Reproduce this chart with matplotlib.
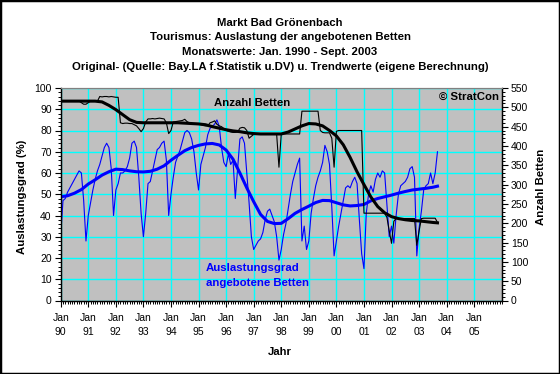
import matplotlib
matplotlib.use("Agg")
import matplotlib.pyplot as plt
from matplotlib.ticker import MultipleLocator, FixedLocator
from matplotlib.patches import Rectangle

plt.rcParams['font.family'] = ['Liberation Sans', 'DejaVu Sans']

# ---------------- data ----------------
year_labels = ["90", "91", "92", "93", "94", "95", "96", "97",
               "98", "99", "00", "01", "02", "03", "04", "05"]

# Auslastungsgrad (%) monthly, Jan 1990 - Sep 2003
occupancy = [
    31, 47, 48, 51, 53, 55, 57, 59, 61, 60, 47, 28,   # 1990
    40, 46, 52, 57, 61, 64, 68, 72, 74, 72, 62, 40,   # 1991
    52, 55, 60, 60, 61, 63, 67, 74, 75, 72, 58, 41,   # 1992
    30, 41, 55, 56, 61, 66, 71, 72, 74, 75, 66, 40,   # 1993
    50, 58, 65, 68, 71, 75, 79, 80, 79, 76, 70, 60,   # 1994
    52, 64, 68, 72, 78, 81, 82, 83, 85, 82, 72, 65,   # 1995
    63, 69, 64, 66, 48, 62, 76, 77, 74, 60, 46, 30,   # 1996
    24, 26, 28, 29, 32, 38, 42, 43, 40, 37, 30, 19,   # 1997
    24, 31, 36, 43, 50, 56, 60, 64, 67, 28, 35, 24,   # 1998
    28, 41, 48, 54, 58, 61, 65, 73, 70, 64, 44, 21,   # 1999
    28, 35, 41, 47, 53, 54, 53, 56, 58, 55, 38, 22,   # 2000
    15, 41, 50, 54, 51, 57, 60, 58, 61, 60, 45, 30,   # 2001
    35, 27, 40, 50, 54, 55, 56, 58, 62, 63, 58, 21,   # 2002
    34, 42, 52, 54, 55, 60, 55, 60, 70,               # 2003
]

# Anzahl Betten monthly, Jan 1990 - Sep 2003
beds = [
    516, 516, 516, 516, 516, 516, 516, 516, 516, 512, 508, 508,   # 1990
    512, 516, 516, 516, 516, 528, 527, 528, 528, 527, 528, 527,   # 1991
    526, 526, 460, 458, 459, 459, 458, 458, 455, 452, 445, 437,   # 1992
    445, 462, 470, 470, 471, 470, 471, 472, 471, 470, 460, 432,   # 1993
    440, 462, 463, 464, 465, 466, 469, 463, 460, 458, 457, 457,   # 1994
    456, 455, 453, 452, 452, 460, 462, 465, 456, 452, 450, 445,   # 1995
    440, 438, 436, 435, 435, 436, 446, 448, 447, 440, 420, 425,   # 1996
    430, 430, 430, 430, 430, 430, 430, 430, 430, 430, 430, 345,   # 1997
    431, 431, 431, 431, 431, 431, 431, 431, 431, 490, 490, 490,   # 1998
    490, 490, 490, 490, 490, 440, 435, 434, 434, 434, 420, 345,   # 1999
    438, 440, 440, 440, 440, 440, 440, 440, 440, 440, 440, 440,   # 2000
    226, 226, 226, 226, 226, 226, 226, 226, 226, 226, 215, 180,   # 2001
    148, 205, 212, 212, 212, 212, 212, 212, 212, 212, 212, 143,   # 2002
    180, 212, 213, 213, 213, 213, 213, 213, 202,                  # 2003
]

# trend values (eigene Berechnung), read quarterly
trend_months = list(range(0, 163, 3)) + [164]
occupancy_trend = [
    48.8, 49.3, 50.5, 52.2, 54.8, 56.8, 59.0, 60.6, 61.8, 61.6, 61.0, 60.6,
    60.5, 60.8, 61.8, 63.4, 66.0, 68.3, 70.5, 72.0, 73.0, 73.7, 73.9, 73.2,
    70.8, 66.5, 60.0, 53.0, 46.5, 40.5, 37.2, 36.2, 36.3, 38.5, 41.0, 42.8,
    44.4, 46.1, 47.1, 47.0, 46.0, 45.0, 44.5, 44.7, 45.2, 46.9, 48.0, 48.8,
    49.6, 50.5, 51.3, 52.0, 52.4, 52.8, 53.3, 53.8,
]
beds_trend = [
    516, 516, 516, 516, 516, 516, 514, 505, 494, 481, 468, 461,
    460, 460, 460, 460, 460, 460, 459, 458, 457, 455, 450, 446,
    442, 439, 437, 434, 432, 431, 431, 431, 431, 436, 444, 452,
    458, 457, 452, 440, 426, 403, 370, 333, 300, 268, 243, 227,
    217, 212, 209, 207, 206, 204, 202, 201,
]

months = list(range(len(occupancy)))

# ---------------- figure ----------------
W, H = 560, 374
fig = plt.figure(figsize=(W / 100, H / 100), dpi=100)
fig.patch.set_facecolor('white')

def fx(px):
    return px / W

def fy(py):
    return 1 - py / H

left, right, top, bottom = 60.7, 501.8, 88, 300.5
ax = fig.add_axes([fx(left), fy(bottom), fx(right) - fx(left), fy(top) - fy(bottom)])
ax.set_facecolor('#C0C0C0')
ax.set_xlim(0, 192)
ax.set_ylim(0, 100)

ax.xaxis.set_major_locator(FixedLocator(list(range(0, 12 * len(year_labels), 12))))
ax.set_xticklabels([f"Jan\n{y}" for y in year_labels])
ax.xaxis.set_minor_locator(MultipleLocator(1))
ax.yaxis.set_major_locator(MultipleLocator(10))
ax.yaxis.set_minor_locator(MultipleLocator(2))
ax.grid(True, which='major', color='#00FFFF', linewidth=1.0)
ax.set_axisbelow(True)

ax.tick_params(axis='y', which='major', direction='out', length=4.5, width=0.8,
               labelsize=7.5, pad=2)
ax.tick_params(axis='x', which='major', direction='out', length=4.5, width=0.8,
               labelsize=7.5, pad=4.5)
ax.tick_params(axis='both', which='minor', direction='out', length=2, width=0.7)
for lab in ax.get_xticklabels():
    lab.set_linespacing(1.5)

ax.plot(months, occupancy, color='#0000FF', linewidth=0.8, zorder=3)
ax.plot(trend_months, occupancy_trend, color='#0000FF', linewidth=2.2, zorder=4)

ax2 = ax.twinx()
ax2.set_ylim(0, 550)
ax2.yaxis.set_major_locator(MultipleLocator(50))
ax2.yaxis.set_minor_locator(MultipleLocator(10))
ax2.tick_params(axis='y', which='major', direction='out', length=4.5, width=0.8,
                labelsize=7.5, pad=2)
ax2.tick_params(axis='y', which='minor', direction='out', length=2, width=0.7)
ax2.plot(months, beds, color='black', linewidth=0.8, zorder=3)
ax2.plot(trend_months, beds_trend, color='black', linewidth=2.2, zorder=4)

for a in (ax, ax2):
    a.spines['top'].set_color('#808080')
    for s in ('left', 'right', 'bottom'):
        a.spines[s].set_linewidth(0.9)

# axis titles
fig.text(fx(22), fy(197), "Auslastungsgrad (%)", rotation=90, ha='center', va='center',
         fontsize=8.2, fontweight='bold')
fig.text(fx(540.5), fy(187), "Anzahl Betten", rotation=90, ha='center', va='center',
         fontsize=8.2, fontweight='bold')
fig.text(fx(280), fy(352), "Jahr", ha='center', va='center', fontsize=8.2, fontweight='bold')

# chart titles
titles = ["Markt Bad Grönenbach",
          "Tourismus: Auslastung der angebotenen Betten",
          "Monatswerte: Jan. 1990 - Sept. 2003",
          "Original- (Quelle: Bay.LA f.Statistik u.DV) u. Trendwerte (eigene Berechnung)"]
for i, t in enumerate(titles):
    fig.text(0.5, fy(22.7 + 14.7 * i), t, ha='center', va='center',
             fontsize=8.2, fontweight='bold')

# annotations inside the plot
fig.text(fx(214), fy(103), "Anzahl Betten", ha='left', va='center',
         fontsize=8.2, fontweight='bold', color='black')
fig.text(fx(439), fy(97), "© StratCon", ha='left', va='center',
         fontsize=8.2, fontweight='bold', color='black')
fig.text(fx(206), fy(268), "Auslastungsgrad", ha='left', va='center',
         fontsize=8.2, fontweight='bold', color='#0000FF')
fig.text(fx(206), fy(283.5), "angebotene Betten", ha='left', va='center',
         fontsize=8.2, fontweight='bold', color='#0000FF')

fig.patches.append(Rectangle((0, 0), 1, 1, transform=fig.transFigure, fill=False,
                             edgecolor='black', linewidth=2.5))

fig.savefig("out.png", dpi=100)
